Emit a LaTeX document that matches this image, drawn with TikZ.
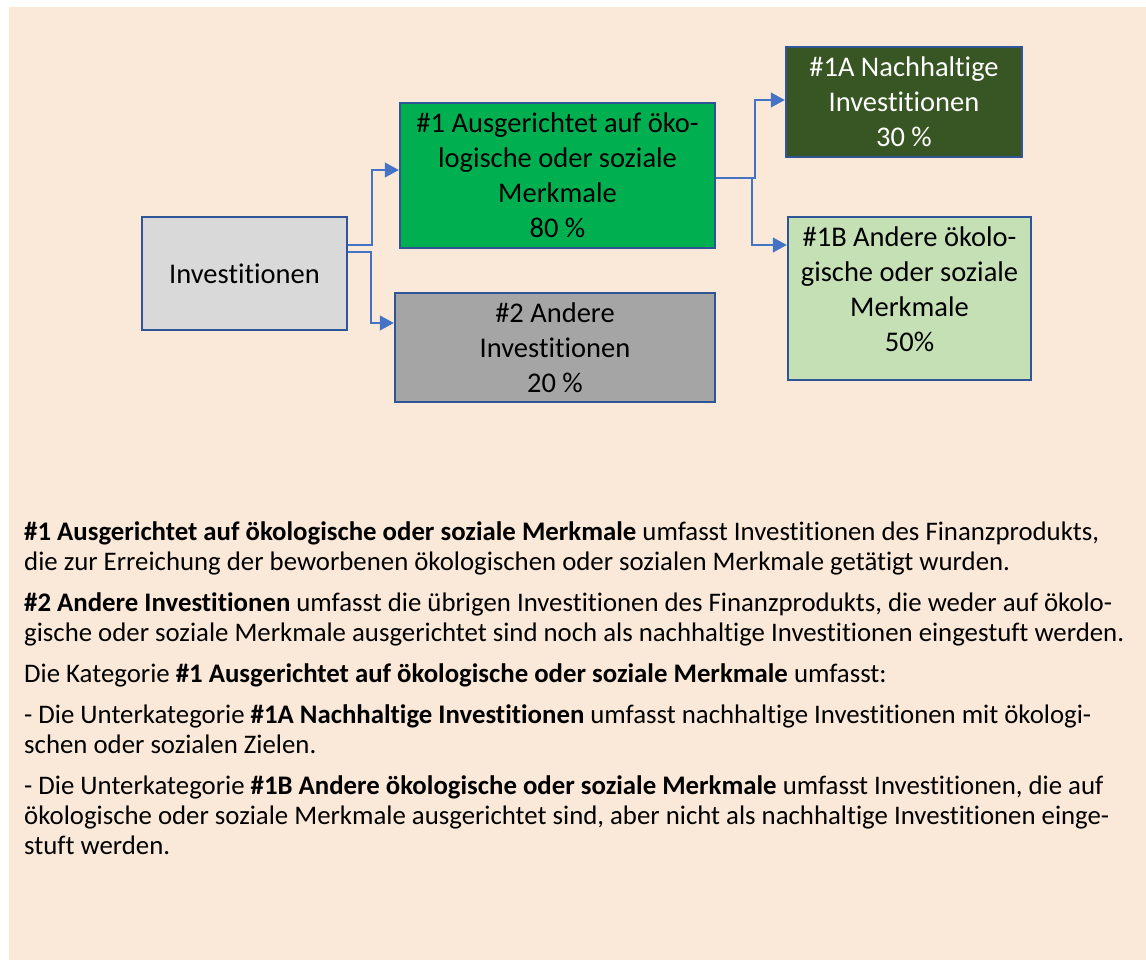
\documentclass[tikz,border=0pt]{standalone}
\usepackage{fontspec}
\setmainfont{Carlito}[Ligatures=NoCommon]
\usetikzlibrary{arrows.meta}
\definecolor{peach}{HTML}{FAE8D8}
\definecolor{rahmen}{HTML}{2F5597}
\definecolor{pfeilblau}{HTML}{4472C4}
\definecolor{hellgrau}{HTML}{D9D9D9}
\definecolor{grau}{HTML}{A5A5A5}
\definecolor{gruen}{HTML}{00B050}
\definecolor{dunkelgruen}{HTML}{375623}
\definecolor{hellgruen}{HTML}{C5E0B4}
\begin{document}
\begin{tikzpicture}[x=1pt,y=-1pt,
  kasten/.style={draw=rahmen,line width=2.5pt,align=center,inner sep=0pt,
    font=\fontsize{28.5}{35}\selectfont},
  pfeil/.style={draw=pfeilblau,line width=1.3pt,-{Triangle[length=14pt,width=15pt]}},
  absatz/.style={anchor=north west,align=left,inner sep=0pt,
    font=\fontsize{26.8}{30}\selectfont}]
  \useasboundingbox (0,0) rectangle (1146,960);
  \fill[peach] (9,7) rectangle (1146,960);

  % Kästen
  \node[kasten,fill=hellgrau,minimum width=205pt,minimum height=113pt] (inv) at (244.5,273.5)
    {Investitionen};
  \node[kasten,fill=gruen,minimum width=315pt,minimum height=145pt,text depth=1pt] (merkmale) at (557.5,175.5)
    {\#1 Ausgerichtet auf öko-\\logische oder soziale\\Merkmale\\80 \%};
  \node[kasten,fill=grau,minimum width=320pt,minimum height=109pt] (andere) at (555,347.5)
    {\#2 Andere\\Investitionen\\20 \%};
  \node[kasten,fill=dunkelgruen,text=white,minimum width=236pt,minimum height=110pt] (nachhaltig) at (904,102)
    {\#1A Nachhaltige\\Investitionen\\30 \%};
  \node[kasten,fill=hellgruen,minimum width=243pt,minimum height=163pt,text depth=19pt] (sonstige) at (909.5,298.5)
    {\#1B Andere ökolo-\\gische oder soziale\\Merkmale\\50\%};

  % Verbindungen
  \draw[pfeil] (inv.east |- 0,245) -| (372,170) -- (merkmale.west |- 0,170);
  \draw[pfeil] (inv.east |- 0,252) -| (371,323) -- (andere.west |- 0,323);
  \draw[pfeil] (merkmale.east |- 0,178) -| (755,100) -- (nachhaltig.west |- 0,100);
  \draw[pfeil] (merkmale.east |- 0,178) -| (752,245) -- (sonstige.west |- 0,245);

  % Erläuterungen
  \node[absatz] (text1) at (24,521)
    {\textbf{\#1 Ausgerichtet auf ökologische oder soziale Merkmale} umfasst Investitionen des Finanzprodukts,\\
     die zur Erreichung der beworbenen ökologischen oder sozialen Merkmale getätigt wurden.};
  \node[absatz] (text2) at (24,592)
    {\textbf{\#2 Andere Investitionen} umfasst die übrigen Investitionen des Finanzprodukts, die weder auf ökolo-\\
     gische oder soziale Merkmale ausgerichtet sind noch als nachhaltige Investitionen eingestuft werden.};
  \node[absatz] (text3) at (24,663)
    {Die Kategorie \textbf{\#1 Ausgerichtet auf ökologische oder soziale Merkmale} umfasst:};
  \node[absatz] (text4) at (24,704)
    {- Die Unterkategorie \textbf{\#1A Nachhaltige Investitionen} umfasst nachhaltige Investitionen mit ökologi-\\
     schen oder sozialen Zielen.};
  \node[absatz] (text5) at (24,775)
    {- Die Unterkategorie \textbf{\#1B Andere ökologische oder soziale Merkmale} umfasst Investitionen, die auf\\
     ökologische oder soziale Merkmale ausgerichtet sind, aber nicht als nachhaltige Investitionen einge-\\
     stuft werden.};
\end{tikzpicture}
\end{document}
